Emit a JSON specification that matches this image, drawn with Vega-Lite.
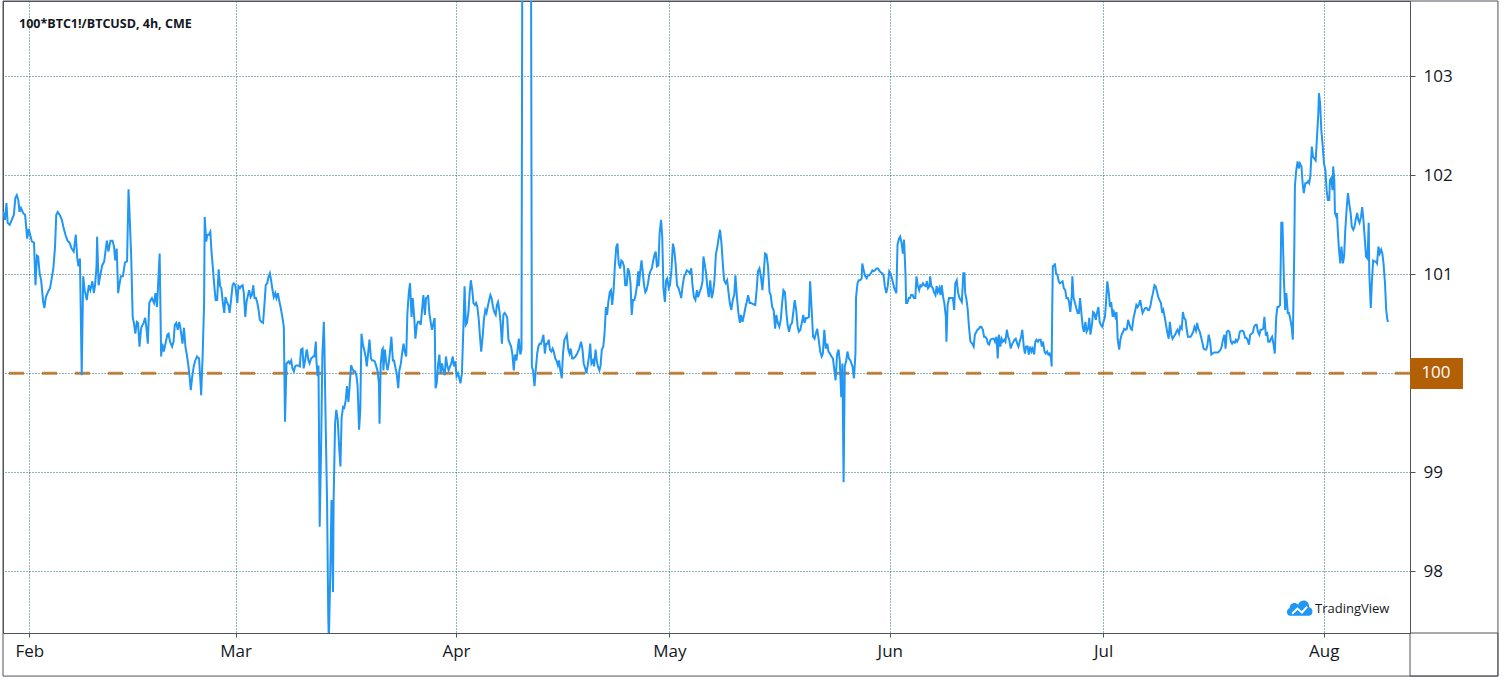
{
"$schema": "https://vega.github.io/schema/vega-lite/v6.json",
"width": 1407, "height": 632,
"autosize": {"type": "none"},
"padding": {"left": 3, "top": 1, "right": 95, "bottom": 52},
"background": "white",
"config": {"view": {"stroke": "#50535e", "strokeWidth": 1}, "font": "Open Sans"},
"datasets": {"ratio": [
{"t":"2020-01-27T15:00Z","v":101.43},{"t":"2020-01-27T17:00Z","v":101.66},{"t":"2020-01-28T00:00Z","v":101.65},{"t":"2020-01-28T09:00Z","v":101.62},{"t":"2020-01-28T14:00Z","v":101.55},{"t":"2020-01-28T19:00Z","v":101.72},{"t":"2020-01-28T23:00Z","v":101.52},{"t":"2020-01-29T06:00Z","v":101.50},{"t":"2020-01-29T13:00Z","v":101.55},{"t":"2020-01-29T20:00Z","v":101.60},{"t":"2020-01-30T01:00Z","v":101.77},{"t":"2020-01-30T06:00Z","v":101.80},{"t":"2020-01-30T11:00Z","v":101.75},{"t":"2020-01-30T15:00Z","v":101.63},{"t":"2020-01-30T20:00Z","v":101.67},{"t":"2020-01-31T03:00Z","v":101.62},{"t":"2020-01-31T10:00Z","v":101.60},{"t":"2020-01-31T17:00Z","v":101.36},{"t":"2020-01-31T22:00Z","v":101.46},
{"t":"2020-02-01T02:00Z","v":101.41},{"t":"2020-02-01T09:00Z","v":101.33},{"t":"2020-02-01T16:00Z","v":101.32},{"t":"2020-02-01T21:00Z","v":100.89},{"t":"2020-02-02T02:00Z","v":101.19},{"t":"2020-02-02T06:00Z","v":101.18},{"t":"2020-02-02T11:00Z","v":101.01},{"t":"2020-02-02T16:00Z","v":100.94},{"t":"2020-02-02T23:00Z","v":100.72},{"t":"2020-02-03T03:00Z","v":100.66},{"t":"2020-02-03T08:00Z","v":100.77},{"t":"2020-02-03T15:00Z","v":100.82},{"t":"2020-02-03T22:00Z","v":100.86},{"t":"2020-02-04T05:00Z","v":100.98},{"t":"2020-02-04T10:00Z","v":101.08},{"t":"2020-02-04T15:00Z","v":101.28},{"t":"2020-02-04T19:00Z","v":101.60},{"t":"2020-02-05T00:00Z","v":101.63},{"t":"2020-02-05T07:00Z","v":101.60},{"t":"2020-02-05T14:00Z","v":101.55},{"t":"2020-02-05T19:00Z","v":101.48},{"t":"2020-02-06T02:00Z","v":101.40},{"t":"2020-02-06T09:00Z","v":101.34},{"t":"2020-02-06T16:00Z","v":101.32},{"t":"2020-02-06T23:00Z","v":101.26},{"t":"2020-02-07T06:00Z","v":101.23},{"t":"2020-02-07T13:00Z","v":101.40},{"t":"2020-02-07T18:00Z","v":101.16},{"t":"2020-02-07T22:00Z","v":101.08},{"t":"2020-02-08T03:00Z","v":101.16},{"t":"2020-02-08T09:00Z","v":99.98},{"t":"2020-02-08T14:00Z","v":100.98},{"t":"2020-02-08T19:00Z","v":100.84},{"t":"2020-02-09T02:00Z","v":100.74},{"t":"2020-02-09T09:00Z","v":100.89},{"t":"2020-02-09T14:00Z","v":100.84},{"t":"2020-02-09T21:00Z","v":100.93},{"t":"2020-02-10T02:00Z","v":100.81},{"t":"2020-02-10T06:00Z","v":100.89},{"t":"2020-02-10T11:00Z","v":101.08},{"t":"2020-02-10T13:00Z","v":101.38},{"t":"2020-02-10T18:00Z","v":100.89},{"t":"2020-02-10T23:00Z","v":100.98},{"t":"2020-02-11T06:00Z","v":101.09},{"t":"2020-02-11T13:00Z","v":101.13},{"t":"2020-02-11T17:00Z","v":101.23},{"t":"2020-02-11T22:00Z","v":101.34},{"t":"2020-02-12T03:00Z","v":101.23},{"t":"2020-02-12T10:00Z","v":101.34},{"t":"2020-02-12T17:00Z","v":101.34},{"t":"2020-02-12T22:00Z","v":101.28},{"t":"2020-02-13T02:00Z","v":101.14},{"t":"2020-02-13T07:00Z","v":101.26},{"t":"2020-02-13T12:00Z","v":100.81},{"t":"2020-02-13T16:00Z","v":100.89},{"t":"2020-02-13T21:00Z","v":100.98},{"t":"2020-02-14T04:00Z","v":100.98},{"t":"2020-02-14T11:00Z","v":101.12},{"t":"2020-02-14T18:00Z","v":101.13},{"t":"2020-02-14T23:00Z","v":101.86},{"t":"2020-02-15T03:00Z","v":101.57},{"t":"2020-02-15T08:00Z","v":101.18},{"t":"2020-02-15T13:00Z","v":100.57},{"t":"2020-02-15T17:00Z","v":100.51},{"t":"2020-02-15T22:00Z","v":100.40},{"t":"2020-02-16T03:00Z","v":100.52},{"t":"2020-02-16T07:00Z","v":100.51},{"t":"2020-02-16T12:00Z","v":100.27},{"t":"2020-02-16T17:00Z","v":100.44},
{"t":"2020-02-16T19:00Z","v":100.47},{"t":"2020-02-17T02:00Z","v":100.51},{"t":"2020-02-17T07:00Z","v":100.56},{"t":"2020-02-17T11:00Z","v":100.47},{"t":"2020-02-17T16:00Z","v":100.30},{"t":"2020-02-17T21:00Z","v":100.71},{"t":"2020-02-18T02:00Z","v":100.74},{"t":"2020-02-18T06:00Z","v":100.76},{"t":"2020-02-18T13:00Z","v":100.71},{"t":"2020-02-18T18:00Z","v":100.81},{"t":"2020-02-18T23:00Z","v":100.67},{"t":"2020-02-19T03:00Z","v":100.91},{"t":"2020-02-19T08:00Z","v":101.21},{"t":"2020-02-19T13:00Z","v":100.17},{"t":"2020-02-19T17:00Z","v":100.30},{"t":"2020-02-19T22:00Z","v":100.22},{"t":"2020-02-20T03:00Z","v":100.29},{"t":"2020-02-20T10:00Z","v":100.39},{"t":"2020-02-20T14:00Z","v":100.40},{"t":"2020-02-20T19:00Z","v":100.32},{"t":"2020-02-21T02:00Z","v":100.27},{"t":"2020-02-21T07:00Z","v":100.32},{"t":"2020-02-21T11:00Z","v":100.49},{"t":"2020-02-21T16:00Z","v":100.51},{"t":"2020-02-21T21:00Z","v":100.44},{"t":"2020-02-22T02:00Z","v":100.52},{"t":"2020-02-22T06:00Z","v":100.46},{"t":"2020-02-22T13:00Z","v":100.30},{"t":"2020-02-22T18:00Z","v":100.46},{"t":"2020-02-22T23:00Z","v":100.27},{"t":"2020-02-23T03:00Z","v":100.20},{"t":"2020-02-23T08:00Z","v":100.10},{"t":"2020-02-23T13:00Z","v":99.97},{"t":"2020-02-23T17:00Z","v":99.83},{"t":"2020-02-23T22:00Z","v":99.97},{"t":"2020-02-24T03:00Z","v":100.07},{"t":"2020-02-24T07:00Z","v":100.12},{"t":"2020-02-24T14:00Z","v":100.17},{"t":"2020-02-24T21:00Z","v":100.15},{"t":"2020-02-25T02:00Z","v":99.90},{"t":"2020-02-25T04:00Z","v":99.78},{"t":"2020-02-25T09:00Z","v":100.17},{"t":"2020-02-25T14:00Z","v":100.71},{"t":"2020-02-25T16:00Z","v":101.58},{"t":"2020-02-25T21:00Z","v":101.33},{"t":"2020-02-26T01:00Z","v":101.40},{"t":"2020-02-26T06:00Z","v":101.40},{"t":"2020-02-26T11:00Z","v":101.43},{"t":"2020-02-26T15:00Z","v":101.23},{"t":"2020-02-26T20:00Z","v":101.05},{"t":"2020-02-27T01:00Z","v":100.86},{"t":"2020-02-27T05:00Z","v":100.74},{"t":"2020-02-27T10:00Z","v":100.74},{"t":"2020-02-27T15:00Z","v":101.05},{"t":"2020-02-27T20:00Z","v":100.88},{"t":"2020-02-28T00:00Z","v":100.86},{"t":"2020-02-28T05:00Z","v":100.72},{"t":"2020-02-28T10:00Z","v":100.61},{"t":"2020-02-28T14:00Z","v":100.77},{"t":"2020-02-28T19:00Z","v":100.72},{"t":"2020-02-29T00:00Z","v":100.69},{"t":"2020-02-29T04:00Z","v":100.61},{"t":"2020-02-29T09:00Z","v":100.74},{"t":"2020-02-29T14:00Z","v":100.89},{"t":"2020-02-29T18:00Z","v":100.91},{"t":"2020-02-29T23:00Z","v":100.89},
{"t":"2020-03-01T04:00Z","v":100.77},{"t":"2020-03-01T06:00Z","v":100.71},{"t":"2020-03-01T10:00Z","v":100.88},{"t":"2020-03-01T15:00Z","v":100.86},{"t":"2020-03-01T19:00Z","v":100.88},{"t":"2020-03-02T00:00Z","v":100.89},{"t":"2020-03-02T04:00Z","v":100.81},{"t":"2020-03-02T09:00Z","v":100.57},{"t":"2020-03-02T13:00Z","v":100.72},{"t":"2020-03-02T18:00Z","v":100.79},{"t":"2020-03-02T22:00Z","v":100.84},{"t":"2020-03-03T03:00Z","v":100.77},{"t":"2020-03-03T07:00Z","v":100.79},{"t":"2020-03-03T12:00Z","v":100.89},{"t":"2020-03-03T16:00Z","v":100.76},{"t":"2020-03-03T21:00Z","v":100.76},{"t":"2020-03-04T01:00Z","v":100.72},{"t":"2020-03-04T06:00Z","v":100.64},{"t":"2020-03-04T10:00Z","v":100.54},{"t":"2020-03-04T15:00Z","v":100.52},{"t":"2020-03-04T21:00Z","v":100.51},{"t":"2020-03-05T02:00Z","v":100.71},{"t":"2020-03-05T06:00Z","v":100.89},{"t":"2020-03-05T11:00Z","v":100.91},{"t":"2020-03-05T15:00Z","v":100.97},{"t":"2020-03-05T20:00Z","v":101.01},{"t":"2020-03-06T00:00Z","v":100.94},{"t":"2020-03-06T05:00Z","v":100.84},{"t":"2020-03-06T09:00Z","v":100.77},{"t":"2020-03-06T14:00Z","v":100.81},{"t":"2020-03-06T18:00Z","v":100.76},{"t":"2020-03-06T23:00Z","v":100.81},{"t":"2020-03-07T03:00Z","v":100.74},{"t":"2020-03-07T08:00Z","v":100.67},{"t":"2020-03-07T14:00Z","v":100.57},{"t":"2020-03-07T19:00Z","v":100.47},
{"t":"2020-03-07T23:00Z","v":99.51},{"t":"2020-03-08T04:00Z","v":100.10},{"t":"2020-03-08T11:00Z","v":100.12},{"t":"2020-03-08T15:00Z","v":100.10},{"t":"2020-03-08T20:00Z","v":100.13},{"t":"2020-03-09T00:00Z","v":100.05},{"t":"2020-03-09T05:00Z","v":100.02},{"t":"2020-03-09T09:00Z","v":100.07},{"t":"2020-03-09T14:00Z","v":100.08},{"t":"2020-03-09T20:00Z","v":100.08},{"t":"2020-03-10T01:00Z","v":100.07},{"t":"2020-03-10T05:00Z","v":100.24},{"t":"2020-03-10T10:00Z","v":100.25},{"t":"2020-03-10T14:00Z","v":100.05},{"t":"2020-03-10T19:00Z","v":100.13},{"t":"2020-03-10T23:00Z","v":100.22},{"t":"2020-03-11T01:00Z","v":100.24},{"t":"2020-03-11T06:00Z","v":100.13},{"t":"2020-03-11T10:00Z","v":100.10},{"t":"2020-03-11T15:00Z","v":100.15},{"t":"2020-03-11T22:00Z","v":100.17},{"t":"2020-03-12T02:00Z","v":100.17},{"t":"2020-03-12T07:00Z","v":100.32},{"t":"2020-03-12T09:00Z","v":100.13},{"t":"2020-03-12T13:00Z","v":99.97},{"t":"2020-03-12T16:00Z","v":100.08},{"t":"2020-03-12T20:00Z","v":98.45},{"t":"2020-03-13T01:00Z","v":99.29},{"t":"2020-03-13T05:00Z","v":100.17},{"t":"2020-03-13T10:00Z","v":100.52},{"t":"2020-03-13T12:00Z","v":100.27},{"t":"2020-03-13T16:00Z","v":99.53},{"t":"2020-03-13T21:00Z","v":98.69},{"t":"2020-03-14T01:00Z","v":97.54},{"t":"2020-03-14T03:00Z","v":97.30},{"t":"2020-03-14T08:00Z","v":98.01},{"t":"2020-03-14T12:00Z","v":98.72},{"t":"2020-03-14T17:00Z","v":97.79},{"t":"2020-03-14T19:00Z","v":98.72},{"t":"2020-03-15T00:00Z","v":99.49},{"t":"2020-03-15T04:00Z","v":99.63},{"t":"2020-03-15T09:00Z","v":99.53},{"t":"2020-03-15T13:00Z","v":99.29},{"t":"2020-03-15T18:00Z","v":99.06},{"t":"2020-03-15T22:00Z","v":99.55},{"t":"2020-03-16T03:00Z","v":99.66},{"t":"2020-03-16T07:00Z","v":99.65},{"t":"2020-03-16T12:00Z","v":99.73},{"t":"2020-03-16T16:00Z","v":99.87},{"t":"2020-03-16T21:00Z","v":99.71},{"t":"2020-03-17T01:00Z","v":99.87},{"t":"2020-03-17T06:00Z","v":100.08},{"t":"2020-03-17T10:00Z","v":100.05},{"t":"2020-03-17T15:00Z","v":100.02},{"t":"2020-03-17T19:00Z","v":100.02},{"t":"2020-03-18T00:00Z","v":99.98},{"t":"2020-03-18T04:00Z","v":99.87},{"t":"2020-03-18T09:00Z","v":99.43},{"t":"2020-03-18T13:00Z","v":99.63},{"t":"2020-03-18T17:00Z","v":100.40},{"t":"2020-03-18T22:00Z","v":100.29},{"t":"2020-03-19T02:00Z","v":100.24},{"t":"2020-03-19T07:00Z","v":100.17},{"t":"2020-03-19T11:00Z","v":100.07},{"t":"2020-03-19T16:00Z","v":100.22},{"t":"2020-03-19T20:00Z","v":100.34},{"t":"2020-03-20T01:00Z","v":100.15},{"t":"2020-03-20T05:00Z","v":100.13},{"t":"2020-03-20T10:00Z","v":100.13},{"t":"2020-03-20T14:00Z","v":100.12},{"t":"2020-03-20T19:00Z","v":100.07},{"t":"2020-03-20T23:00Z","v":100.03},{"t":"2020-03-21T04:00Z","v":99.90},{"t":"2020-03-21T06:00Z","v":99.49},{"t":"2020-03-21T10:00Z","v":100.10},{"t":"2020-03-21T15:00Z","v":100.24},{"t":"2020-03-21T17:00Z","v":100.25},{"t":"2020-03-21T19:00Z","v":100.03},{"t":"2020-03-22T00:00Z","v":100.24},{"t":"2020-03-22T04:00Z","v":100.12},{"t":"2020-03-22T09:00Z","v":100.03},{"t":"2020-03-22T13:00Z","v":100.10},{"t":"2020-03-22T18:00Z","v":100.24},{"t":"2020-03-22T22:00Z","v":100.37},{"t":"2020-03-23T03:00Z","v":100.13},{"t":"2020-03-23T07:00Z","v":100.13},{"t":"2020-03-23T12:00Z","v":100.05},{"t":"2020-03-23T16:00Z","v":100.00},{"t":"2020-03-23T21:00Z","v":99.85},{"t":"2020-03-24T01:00Z","v":100.03},{"t":"2020-03-24T06:00Z","v":100.10},{"t":"2020-03-24T10:00Z","v":100.20},{"t":"2020-03-24T15:00Z","v":100.30},{"t":"2020-03-24T19:00Z","v":100.22},{"t":"2020-03-25T00:00Z","v":100.17},{"t":"2020-03-25T04:00Z","v":100.61},{"t":"2020-03-25T09:00Z","v":100.82},{"t":"2020-03-25T13:00Z","v":100.91},{"t":"2020-03-25T18:00Z","v":100.57},{"t":"2020-03-25T22:00Z","v":100.76},{"t":"2020-03-26T03:00Z","v":100.57},{"t":"2020-03-26T07:00Z","v":100.35},{"t":"2020-03-26T12:00Z","v":100.49},{"t":"2020-03-26T16:00Z","v":100.52},{"t":"2020-03-26T21:00Z","v":100.52},{"t":"2020-03-27T01:00Z","v":100.49},{"t":"2020-03-27T06:00Z","v":100.66},{"t":"2020-03-27T10:00Z","v":100.79},{"t":"2020-03-27T15:00Z","v":100.59},{"t":"2020-03-27T19:00Z","v":100.76},{"t":"2020-03-28T00:00Z","v":100.77},
{"t":"2020-03-28T02:00Z","v":100.79},{"t":"2020-03-28T06:00Z","v":100.61},{"t":"2020-03-28T11:00Z","v":100.51},{"t":"2020-03-28T15:00Z","v":100.44},{"t":"2020-03-28T20:00Z","v":100.51},{"t":"2020-03-29T00:00Z","v":100.56},{"t":"2020-03-29T03:00Z","v":99.85},{"t":"2020-03-29T07:00Z","v":99.90},{"t":"2020-03-29T12:00Z","v":100.10},{"t":"2020-03-29T16:00Z","v":100.19},{"t":"2020-03-29T20:00Z","v":100.00},{"t":"2020-03-30T01:00Z","v":100.10},{"t":"2020-03-30T05:00Z","v":100.03},{"t":"2020-03-30T10:00Z","v":99.98},{"t":"2020-03-30T14:00Z","v":100.17},{"t":"2020-03-30T19:00Z","v":100.07},{"t":"2020-03-30T23:00Z","v":100.03},{"t":"2020-03-31T04:00Z","v":100.07},{"t":"2020-03-31T08:00Z","v":100.10},{"t":"2020-03-31T13:00Z","v":100.17},{"t":"2020-03-31T17:00Z","v":100.07},{"t":"2020-03-31T22:00Z","v":100.12},
{"t":"2020-04-01T02:00Z","v":99.97},{"t":"2020-04-01T07:00Z","v":100.00},{"t":"2020-04-01T11:00Z","v":99.95},{"t":"2020-04-01T15:00Z","v":99.90},{"t":"2020-04-01T20:00Z","v":100.00},{"t":"2020-04-02T00:00Z","v":100.37},{"t":"2020-04-02T05:00Z","v":100.88},{"t":"2020-04-02T09:00Z","v":100.49},{"t":"2020-04-02T13:00Z","v":100.51},{"t":"2020-04-02T18:00Z","v":100.62},{"t":"2020-04-02T22:00Z","v":100.81},{"t":"2020-04-03T02:00Z","v":100.94},{"t":"2020-04-03T07:00Z","v":100.84},{"t":"2020-04-03T11:00Z","v":100.71},{"t":"2020-04-03T16:00Z","v":100.69},{"t":"2020-04-03T20:00Z","v":100.71},{"t":"2020-04-04T00:00Z","v":100.67},{"t":"2020-04-04T05:00Z","v":100.54},{"t":"2020-04-04T09:00Z","v":100.37},{"t":"2020-04-04T13:00Z","v":100.22},{"t":"2020-04-04T18:00Z","v":100.37},{"t":"2020-04-04T22:00Z","v":100.54},{"t":"2020-04-05T03:00Z","v":100.64},{"t":"2020-04-05T07:00Z","v":100.61},{"t":"2020-04-05T11:00Z","v":100.67},{"t":"2020-04-05T16:00Z","v":100.74},{"t":"2020-04-05T20:00Z","v":100.79},{"t":"2020-04-06T00:00Z","v":100.76},{"t":"2020-04-06T05:00Z","v":100.67},{"t":"2020-04-06T09:00Z","v":100.62},{"t":"2020-04-06T14:00Z","v":100.59},{"t":"2020-04-06T18:00Z","v":100.69},{"t":"2020-04-06T22:00Z","v":100.72},{"t":"2020-04-07T03:00Z","v":100.62},{"t":"2020-04-07T07:00Z","v":100.49},{"t":"2020-04-07T11:00Z","v":100.30},{"t":"2020-04-07T16:00Z","v":100.59},{"t":"2020-04-07T20:00Z","v":100.61},{"t":"2020-04-08T01:00Z","v":100.59},{"t":"2020-04-08T05:00Z","v":100.56},{"t":"2020-04-08T09:00Z","v":100.34},{"t":"2020-04-08T14:00Z","v":100.30},{"t":"2020-04-08T18:00Z","v":100.27},{"t":"2020-04-08T22:00Z","v":100.20},{"t":"2020-04-09T03:00Z","v":100.03},{"t":"2020-04-09T07:00Z","v":100.19},{"t":"2020-04-09T12:00Z","v":100.13},{"t":"2020-04-09T16:00Z","v":100.24},{"t":"2020-04-09T20:00Z","v":100.35},{"t":"2020-04-10T01:00Z","v":100.19},{"t":"2020-04-10T05:00Z","v":100.24},{"t":"2020-04-10T09:00Z","v":106.0},{"t":"2020-04-10T23:00Z","v":106.5},{"t":"2020-04-11T12:00Z","v":106.0},{"t":"2020-04-11T16:00Z","v":100.07},{"t":"2020-04-11T20:00Z","v":100.03},{"t":"2020-04-12T01:00Z","v":99.87},{"t":"2020-04-12T05:00Z","v":100.03},{"t":"2020-04-12T10:00Z","v":100.20},{"t":"2020-04-12T14:00Z","v":100.27},{"t":"2020-04-12T18:00Z","v":100.30},{"t":"2020-04-12T23:00Z","v":100.30},{"t":"2020-04-13T03:00Z","v":100.34},{"t":"2020-04-13T07:00Z","v":100.39},{"t":"2020-04-13T12:00Z","v":100.20},{"t":"2020-04-13T16:00Z","v":100.30},{"t":"2020-04-13T21:00Z","v":100.30},{"t":"2020-04-14T01:00Z","v":100.34},{"t":"2020-04-14T05:00Z","v":100.24},{"t":"2020-04-14T10:00Z","v":100.22},{"t":"2020-04-14T14:00Z","v":100.25},{"t":"2020-04-14T18:00Z","v":100.22},{"t":"2020-04-14T23:00Z","v":100.15},{"t":"2020-04-15T03:00Z","v":100.13},{"t":"2020-04-15T08:00Z","v":100.08},{"t":"2020-04-15T12:00Z","v":100.13},{"t":"2020-04-15T16:00Z","v":100.03},{"t":"2020-04-15T21:00Z","v":99.95},{"t":"2020-04-16T01:00Z","v":100.20},{"t":"2020-04-16T06:00Z","v":100.34},
{"t":"2020-04-16T08:00Z","v":100.35},{"t":"2020-04-16T14:00Z","v":100.39},{"t":"2020-04-16T19:00Z","v":100.24},{"t":"2020-04-16T23:00Z","v":100.20},{"t":"2020-04-17T03:00Z","v":100.25},{"t":"2020-04-17T08:00Z","v":100.15},{"t":"2020-04-17T12:00Z","v":100.15},{"t":"2020-04-17T19:00Z","v":100.17},{"t":"2020-04-18T01:00Z","v":100.20},{"t":"2020-04-18T08:00Z","v":100.25},{"t":"2020-04-18T14:00Z","v":100.32},{"t":"2020-04-18T19:00Z","v":100.24},{"t":"2020-04-18T23:00Z","v":100.10},{"t":"2020-04-19T04:00Z","v":100.05},{"t":"2020-04-19T08:00Z","v":100.00},{"t":"2020-04-19T12:00Z","v":100.07},{"t":"2020-04-19T17:00Z","v":100.17},{"t":"2020-04-19T21:00Z","v":100.30},{"t":"2020-04-20T01:00Z","v":100.10},{"t":"2020-04-20T06:00Z","v":100.13},{"t":"2020-04-20T10:00Z","v":100.07},{"t":"2020-04-20T15:00Z","v":100.24},{"t":"2020-04-20T19:00Z","v":100.13},{"t":"2020-04-20T23:00Z","v":100.07},{"t":"2020-04-21T04:00Z","v":100.03},{"t":"2020-04-21T08:00Z","v":100.08},{"t":"2020-04-21T12:00Z","v":100.24},{"t":"2020-04-21T17:00Z","v":100.27},{"t":"2020-04-21T21:00Z","v":100.39},{"t":"2020-04-22T02:00Z","v":100.67},{"t":"2020-04-22T06:00Z","v":100.59},{"t":"2020-04-22T10:00Z","v":100.72},{"t":"2020-04-22T15:00Z","v":100.82},{"t":"2020-04-22T19:00Z","v":100.84},{"t":"2020-04-22T23:00Z","v":100.69},{"t":"2020-04-23T04:00Z","v":100.84},{"t":"2020-04-23T08:00Z","v":101.08},{"t":"2020-04-23T13:00Z","v":101.28},{"t":"2020-04-23T17:00Z","v":101.31},{"t":"2020-04-23T21:00Z","v":101.11},{"t":"2020-04-24T02:00Z","v":101.06},{"t":"2020-04-24T06:00Z","v":101.14},{"t":"2020-04-24T10:00Z","v":101.13},{"t":"2020-04-24T15:00Z","v":101.08},{"t":"2020-04-24T19:00Z","v":100.89},{"t":"2020-04-25T00:00Z","v":100.89},{"t":"2020-04-25T04:00Z","v":101.06},{"t":"2020-04-25T08:00Z","v":101.03},{"t":"2020-04-25T13:00Z","v":100.91},{"t":"2020-04-25T17:00Z","v":100.59},{"t":"2020-04-25T21:00Z","v":100.74},{"t":"2020-04-26T02:00Z","v":100.74},{"t":"2020-04-26T06:00Z","v":100.79},{"t":"2020-04-26T11:00Z","v":100.89},{"t":"2020-04-26T15:00Z","v":101.03},{"t":"2020-04-26T17:00Z","v":100.88},{"t":"2020-04-26T21:00Z","v":101.01},{"t":"2020-04-27T02:00Z","v":101.14},{"t":"2020-04-27T06:00Z","v":101.03},{"t":"2020-04-27T11:00Z","v":100.88},{"t":"2020-04-27T15:00Z","v":100.82},{"t":"2020-04-27T19:00Z","v":100.84},{"t":"2020-04-28T00:00Z","v":100.91},{"t":"2020-04-28T04:00Z","v":100.99},{"t":"2020-04-28T08:00Z","v":101.03},{"t":"2020-04-28T13:00Z","v":101.06},{"t":"2020-04-28T17:00Z","v":101.13},{"t":"2020-04-28T22:00Z","v":101.20},{"t":"2020-04-29T02:00Z","v":101.23},{"t":"2020-04-29T06:00Z","v":101.08},{"t":"2020-04-29T11:00Z","v":101.09},{"t":"2020-04-29T15:00Z","v":101.41},{"t":"2020-04-29T20:00Z","v":101.55},{"t":"2020-04-30T00:00Z","v":101.38},{"t":"2020-04-30T04:00Z","v":100.86},{"t":"2020-04-30T09:00Z","v":100.72},{"t":"2020-04-30T13:00Z","v":100.94},{"t":"2020-04-30T17:00Z","v":100.96},{"t":"2020-04-30T22:00Z","v":100.86},
{"t":"2020-05-01T02:00Z","v":100.89},{"t":"2020-05-01T07:00Z","v":101.04},{"t":"2020-05-01T12:00Z","v":101.31},{"t":"2020-05-01T16:00Z","v":101.26},{"t":"2020-05-01T21:00Z","v":101.11},{"t":"2020-05-02T02:00Z","v":100.89},{"t":"2020-05-02T07:00Z","v":100.86},{"t":"2020-05-02T12:00Z","v":100.81},{"t":"2020-05-02T16:00Z","v":100.76},{"t":"2020-05-02T21:00Z","v":100.89},{"t":"2020-05-03T02:00Z","v":100.98},{"t":"2020-05-03T07:00Z","v":101.01},{"t":"2020-05-03T11:00Z","v":101.04},{"t":"2020-05-03T16:00Z","v":101.03},{"t":"2020-05-03T21:00Z","v":101.01},{"t":"2020-05-04T02:00Z","v":101.06},{"t":"2020-05-04T06:00Z","v":100.89},{"t":"2020-05-04T11:00Z","v":100.77},{"t":"2020-05-04T16:00Z","v":100.74},{"t":"2020-05-04T21:00Z","v":100.84},{"t":"2020-05-05T01:00Z","v":100.77},{"t":"2020-05-05T06:00Z","v":100.82},{"t":"2020-05-05T11:00Z","v":100.86},{"t":"2020-05-05T16:00Z","v":100.93},{"t":"2020-05-05T19:00Z","v":101.18},
{"t":"2020-05-05T23:00Z","v":101.11},{"t":"2020-05-06T04:00Z","v":101.01},{"t":"2020-05-06T08:00Z","v":100.88},{"t":"2020-05-06T13:00Z","v":100.77},{"t":"2020-05-06T18:00Z","v":100.94},{"t":"2020-05-06T23:00Z","v":100.76},{"t":"2020-05-07T03:00Z","v":100.81},{"t":"2020-05-07T08:00Z","v":100.93},{"t":"2020-05-07T13:00Z","v":101.20},{"t":"2020-05-07T18:00Z","v":101.28},{"t":"2020-05-07T22:00Z","v":101.36},{"t":"2020-05-08T03:00Z","v":101.45},{"t":"2020-05-08T08:00Z","v":101.31},{"t":"2020-05-08T13:00Z","v":101.08},{"t":"2020-05-08T17:00Z","v":100.94},{"t":"2020-05-08T22:00Z","v":100.91},{"t":"2020-05-09T03:00Z","v":100.94},{"t":"2020-05-09T08:00Z","v":100.81},{"t":"2020-05-09T12:00Z","v":100.71},{"t":"2020-05-09T17:00Z","v":100.64},{"t":"2020-05-09T22:00Z","v":100.74},{"t":"2020-05-10T03:00Z","v":100.79},{"t":"2020-05-10T07:00Z","v":100.99},{"t":"2020-05-10T12:00Z","v":100.77},{"t":"2020-05-10T17:00Z","v":100.61},{"t":"2020-05-10T22:00Z","v":100.51},{"t":"2020-05-11T02:00Z","v":100.59},{"t":"2020-05-11T07:00Z","v":100.52},{"t":"2020-05-11T12:00Z","v":100.59},{"t":"2020-05-11T17:00Z","v":100.67},{"t":"2020-05-11T21:00Z","v":100.72},{"t":"2020-05-12T02:00Z","v":100.79},{"t":"2020-05-12T07:00Z","v":100.71},{"t":"2020-05-12T12:00Z","v":100.71},{"t":"2020-05-12T19:00Z","v":100.70},{"t":"2020-05-13T02:00Z","v":100.69},{"t":"2020-05-13T07:00Z","v":100.86},{"t":"2020-05-13T11:00Z","v":101.03},{"t":"2020-05-13T16:00Z","v":101.06},{"t":"2020-05-13T21:00Z","v":100.98},{"t":"2020-05-14T02:00Z","v":100.84},{"t":"2020-05-14T07:00Z","v":101.03},{"t":"2020-05-14T11:00Z","v":101.21},{"t":"2020-05-14T16:00Z","v":101.20},{"t":"2020-05-14T21:00Z","v":101.08},{"t":"2020-05-15T02:00Z","v":100.82},{"t":"2020-05-15T06:00Z","v":100.79},{"t":"2020-05-15T11:00Z","v":100.67},{"t":"2020-05-15T16:00Z","v":100.64},{"t":"2020-05-15T21:00Z","v":100.45},{"t":"2020-05-16T01:00Z","v":100.59},{"t":"2020-05-16T06:00Z","v":100.51},{"t":"2020-05-16T11:00Z","v":100.47},{"t":"2020-05-16T16:00Z","v":100.54},{"t":"2020-05-16T20:00Z","v":100.69},{"t":"2020-05-17T01:00Z","v":100.84},{"t":"2020-05-17T06:00Z","v":100.82},{"t":"2020-05-17T11:00Z","v":100.61},{"t":"2020-05-17T15:00Z","v":100.49},{"t":"2020-05-17T20:00Z","v":100.42},{"t":"2020-05-18T01:00Z","v":100.49},{"t":"2020-05-18T06:00Z","v":100.51},{"t":"2020-05-18T10:00Z","v":100.61},{"t":"2020-05-18T15:00Z","v":100.74},{"t":"2020-05-18T20:00Z","v":100.64},{"t":"2020-05-19T01:00Z","v":100.47},{"t":"2020-05-19T05:00Z","v":100.42},{"t":"2020-05-19T10:00Z","v":100.44},{"t":"2020-05-19T15:00Z","v":100.51},{"t":"2020-05-19T20:00Z","v":100.59},{"t":"2020-05-20T00:00Z","v":100.51},{"t":"2020-05-20T05:00Z","v":100.56},{"t":"2020-05-20T10:00Z","v":100.56},{"t":"2020-05-20T15:00Z","v":100.57},{"t":"2020-05-20T19:00Z","v":100.93},{"t":"2020-05-21T00:00Z","v":100.66},{"t":"2020-05-21T05:00Z","v":100.37},{"t":"2020-05-21T10:00Z","v":100.35},{"t":"2020-05-21T14:00Z","v":100.40},{"t":"2020-05-21T19:00Z","v":100.45},{"t":"2020-05-22T00:00Z","v":100.34},{"t":"2020-05-22T05:00Z","v":100.22},{"t":"2020-05-22T10:00Z","v":100.17},{"t":"2020-05-22T14:00Z","v":100.20},{"t":"2020-05-22T19:00Z","v":100.44},{"t":"2020-05-23T00:00Z","v":100.25},{"t":"2020-05-23T05:00Z","v":100.30},{"t":"2020-05-23T09:00Z","v":100.22},{"t":"2020-05-23T14:00Z","v":100.20},{"t":"2020-05-23T19:00Z","v":100.17},{"t":"2020-05-24T00:00Z","v":100.15},{"t":"2020-05-24T04:00Z","v":100.05},{"t":"2020-05-24T09:00Z","v":99.93},{"t":"2020-05-24T14:00Z","v":100.19},{"t":"2020-05-24T19:00Z","v":100.24},{"t":"2020-05-24T23:00Z","v":100.13},{"t":"2020-05-25T04:00Z","v":99.76},{"t":"2020-05-25T08:00Z","v":100.10},{"t":"2020-05-25T12:00Z","v":98.90},{"t":"2020-05-25T16:00Z","v":100.07},{"t":"2020-05-25T21:00Z","v":100.13},{"t":"2020-05-26T01:00Z","v":100.22},{"t":"2020-05-26T06:00Z","v":100.15},{"t":"2020-05-26T11:00Z","v":100.13},
{"t":"2020-05-26T18:00Z","v":100.07},{"t":"2020-05-26T23:00Z","v":99.95},{"t":"2020-05-27T04:00Z","v":100.20},{"t":"2020-05-27T06:00Z","v":100.77},{"t":"2020-05-27T11:00Z","v":100.91},{"t":"2020-05-27T15:00Z","v":100.94},{"t":"2020-05-27T20:00Z","v":100.94},{"t":"2020-05-28T01:00Z","v":100.96},{"t":"2020-05-28T03:00Z","v":101.11},{"t":"2020-05-28T08:00Z","v":101.04},{"t":"2020-05-28T13:00Z","v":100.98},{"t":"2020-05-28T18:00Z","v":100.96},{"t":"2020-05-28T22:00Z","v":100.99},{"t":"2020-05-29T03:00Z","v":100.99},{"t":"2020-05-29T08:00Z","v":101.01},{"t":"2020-05-29T13:00Z","v":101.04},{"t":"2020-05-29T17:00Z","v":101.03},{"t":"2020-05-29T22:00Z","v":101.04},{"t":"2020-05-30T03:00Z","v":101.06},{"t":"2020-05-30T08:00Z","v":101.06},{"t":"2020-05-30T12:00Z","v":101.04},{"t":"2020-05-30T17:00Z","v":101.02},{"t":"2020-05-30T22:00Z","v":101.01},{"t":"2020-05-31T03:00Z","v":100.99},{"t":"2020-05-31T07:00Z","v":100.88},{"t":"2020-05-31T12:00Z","v":100.81},{"t":"2020-05-31T17:00Z","v":100.88},{"t":"2020-05-31T22:00Z","v":101.03},
{"t":"2020-06-01T02:00Z","v":101.01},{"t":"2020-06-01T07:00Z","v":100.96},{"t":"2020-06-01T11:00Z","v":100.91},{"t":"2020-06-01T15:00Z","v":100.86},{"t":"2020-06-01T22:00Z","v":100.81},{"t":"2020-06-02T02:00Z","v":101.30},{"t":"2020-06-02T07:00Z","v":101.36},{"t":"2020-06-02T11:00Z","v":101.38},{"t":"2020-06-02T16:00Z","v":101.31},{"t":"2020-06-02T20:00Z","v":101.21},{"t":"2020-06-03T00:00Z","v":101.35},{"t":"2020-06-03T05:00Z","v":100.99},{"t":"2020-06-03T07:00Z","v":100.71},{"t":"2020-06-03T11:00Z","v":100.71},{"t":"2020-06-03T16:00Z","v":100.76},{"t":"2020-06-03T20:00Z","v":100.76},{"t":"2020-06-04T00:00Z","v":100.79},{"t":"2020-06-04T05:00Z","v":100.79},{"t":"2020-06-04T09:00Z","v":100.76},{"t":"2020-06-04T14:00Z","v":100.76},{"t":"2020-06-04T18:00Z","v":100.98},{"t":"2020-06-04T22:00Z","v":100.89},{"t":"2020-06-05T03:00Z","v":100.84},{"t":"2020-06-05T07:00Z","v":100.89},{"t":"2020-06-05T11:00Z","v":100.88},{"t":"2020-06-05T16:00Z","v":100.91},{"t":"2020-06-05T20:00Z","v":100.89},{"t":"2020-06-06T01:00Z","v":100.88},{"t":"2020-06-06T05:00Z","v":100.93},{"t":"2020-06-06T09:00Z","v":100.86},{"t":"2020-06-06T14:00Z","v":100.88},{"t":"2020-06-06T16:00Z","v":100.98},{"t":"2020-06-06T20:00Z","v":100.88},{"t":"2020-06-07T01:00Z","v":100.86},{"t":"2020-06-07T05:00Z","v":100.82},{"t":"2020-06-07T10:00Z","v":100.79},{"t":"2020-06-07T14:00Z","v":100.88},{"t":"2020-06-07T18:00Z","v":100.82},{"t":"2020-06-07T23:00Z","v":100.86},{"t":"2020-06-08T03:00Z","v":100.79},{"t":"2020-06-08T07:00Z","v":100.89},{"t":"2020-06-08T12:00Z","v":100.77},{"t":"2020-06-08T16:00Z","v":100.71},{"t":"2020-06-08T21:00Z","v":100.57},{"t":"2020-06-08T23:00Z","v":100.32},{"t":"2020-06-09T03:00Z","v":100.69},{"t":"2020-06-09T08:00Z","v":100.76},{"t":"2020-06-09T12:00Z","v":100.76},{"t":"2020-06-09T16:00Z","v":100.76},{"t":"2020-06-09T21:00Z","v":100.76},{"t":"2020-06-10T01:00Z","v":100.64},{"t":"2020-06-10T05:00Z","v":100.91},{"t":"2020-06-10T10:00Z","v":100.94},{"t":"2020-06-10T14:00Z","v":100.82},{"t":"2020-06-10T19:00Z","v":100.76},{"t":"2020-06-10T23:00Z","v":100.74},{"t":"2020-06-11T03:00Z","v":100.72},{"t":"2020-06-11T08:00Z","v":101.01},{"t":"2020-06-11T12:00Z","v":101.01},{"t":"2020-06-11T14:00Z","v":100.82},{"t":"2020-06-11T19:00Z","v":100.74},{"t":"2020-06-11T23:00Z","v":100.64},{"t":"2020-06-12T03:00Z","v":100.47},{"t":"2020-06-12T08:00Z","v":100.32},{"t":"2020-06-12T14:00Z","v":100.30},{"t":"2020-06-12T19:00Z","v":100.27},{"t":"2020-06-12T23:00Z","v":100.39},{"t":"2020-06-13T04:00Z","v":100.42},{"t":"2020-06-13T08:00Z","v":100.44},{"t":"2020-06-13T12:00Z","v":100.45},{"t":"2020-06-13T17:00Z","v":100.47},{"t":"2020-06-13T21:00Z","v":100.47},{"t":"2020-06-14T02:00Z","v":100.44},{"t":"2020-06-14T06:00Z","v":100.37},{"t":"2020-06-14T10:00Z","v":100.37},{"t":"2020-06-14T15:00Z","v":100.35},{"t":"2020-06-14T19:00Z","v":100.30},{"t":"2020-06-14T23:00Z","v":100.29},{"t":"2020-06-15T04:00Z","v":100.34},
{"t":"2020-06-15T10:00Z","v":100.35},{"t":"2020-06-15T15:00Z","v":100.35},{"t":"2020-06-15T19:00Z","v":100.32},{"t":"2020-06-16T00:00Z","v":100.37},{"t":"2020-06-16T04:00Z","v":100.15},{"t":"2020-06-16T08:00Z","v":100.39},{"t":"2020-06-16T13:00Z","v":100.27},{"t":"2020-06-16T17:00Z","v":100.35},{"t":"2020-06-16T21:00Z","v":100.32},{"t":"2020-06-17T02:00Z","v":100.34},{"t":"2020-06-17T06:00Z","v":100.32},{"t":"2020-06-17T11:00Z","v":100.44},{"t":"2020-06-17T15:00Z","v":100.37},{"t":"2020-06-17T19:00Z","v":100.34},{"t":"2020-06-18T00:00Z","v":100.25},{"t":"2020-06-18T04:00Z","v":100.29},{"t":"2020-06-18T09:00Z","v":100.32},{"t":"2020-06-18T13:00Z","v":100.34},{"t":"2020-06-18T17:00Z","v":100.35},{"t":"2020-06-18T22:00Z","v":100.30},{"t":"2020-06-19T02:00Z","v":100.27},{"t":"2020-06-19T06:00Z","v":100.32},{"t":"2020-06-19T11:00Z","v":100.37},{"t":"2020-06-19T15:00Z","v":100.44},{"t":"2020-06-19T20:00Z","v":100.27},{"t":"2020-06-20T00:00Z","v":100.20},{"t":"2020-06-20T04:00Z","v":100.27},{"t":"2020-06-20T09:00Z","v":100.27},{"t":"2020-06-20T13:00Z","v":100.19},{"t":"2020-06-20T18:00Z","v":100.27},{"t":"2020-06-20T22:00Z","v":100.22},{"t":"2020-06-21T02:00Z","v":100.25},{"t":"2020-06-21T07:00Z","v":100.19},{"t":"2020-06-21T11:00Z","v":100.32},{"t":"2020-06-21T15:00Z","v":100.34},{"t":"2020-06-21T20:00Z","v":100.32},{"t":"2020-06-22T00:00Z","v":100.34},{"t":"2020-06-22T05:00Z","v":100.34},{"t":"2020-06-22T09:00Z","v":100.27},{"t":"2020-06-22T13:00Z","v":100.32},{"t":"2020-06-22T18:00Z","v":100.22},{"t":"2020-06-22T22:00Z","v":100.20},{"t":"2020-06-23T03:00Z","v":100.22},{"t":"2020-06-23T07:00Z","v":100.19},{"t":"2020-06-23T11:00Z","v":100.20},{"t":"2020-06-23T16:00Z","v":100.15},{"t":"2020-06-23T18:00Z","v":100.07},{"t":"2020-06-23T20:00Z","v":100.64},{"t":"2020-06-23T22:00Z","v":101.08},{"t":"2020-06-24T03:00Z","v":101.09},{"t":"2020-06-24T05:00Z","v":101.11},{"t":"2020-06-24T09:00Z","v":101.01},{"t":"2020-06-24T14:00Z","v":100.99},{"t":"2020-06-24T18:00Z","v":100.93},{"t":"2020-06-24T22:00Z","v":100.91},{"t":"2020-06-25T03:00Z","v":100.92},{"t":"2020-06-25T07:00Z","v":100.93},{"t":"2020-06-25T11:00Z","v":100.86},{"t":"2020-06-25T16:00Z","v":100.84},{"t":"2020-06-25T20:00Z","v":100.76},{"t":"2020-06-26T01:00Z","v":100.76},{"t":"2020-06-26T05:00Z","v":100.72},{"t":"2020-06-26T09:00Z","v":100.62},{"t":"2020-06-26T14:00Z","v":100.79},{"t":"2020-06-26T16:00Z","v":100.98},{"t":"2020-06-26T20:00Z","v":100.76},{"t":"2020-06-27T01:00Z","v":100.71},{"t":"2020-06-27T05:00Z","v":100.66},{"t":"2020-06-27T10:00Z","v":100.61},{"t":"2020-06-27T14:00Z","v":100.61},{"t":"2020-06-27T18:00Z","v":100.76},{"t":"2020-06-27T23:00Z","v":100.59},{"t":"2020-06-28T03:00Z","v":100.47},{"t":"2020-06-28T07:00Z","v":100.42},{"t":"2020-06-28T12:00Z","v":100.52},{"t":"2020-06-28T16:00Z","v":100.42},{"t":"2020-06-28T21:00Z","v":100.45},{"t":"2020-06-29T01:00Z","v":100.56},{"t":"2020-06-29T05:00Z","v":100.39},{"t":"2020-06-29T10:00Z","v":100.49},{"t":"2020-06-29T14:00Z","v":100.62},{"t":"2020-06-29T18:00Z","v":100.61},{"t":"2020-06-29T23:00Z","v":100.54},{"t":"2020-06-30T03:00Z","v":100.61},{"t":"2020-06-30T08:00Z","v":100.67},{"t":"2020-06-30T12:00Z","v":100.52},{"t":"2020-06-30T16:00Z","v":100.49},{"t":"2020-06-30T21:00Z","v":100.47},
{"t":"2020-07-01T01:00Z","v":100.52},{"t":"2020-07-01T06:00Z","v":100.57},{"t":"2020-07-01T10:00Z","v":100.74},{"t":"2020-07-01T14:00Z","v":100.93},{"t":"2020-07-01T19:00Z","v":100.81},{"t":"2020-07-01T23:00Z","v":100.67},{"t":"2020-07-02T03:00Z","v":100.72},{"t":"2020-07-02T08:00Z","v":100.57},{"t":"2020-07-02T12:00Z","v":100.62},{"t":"2020-07-02T17:00Z","v":100.57},{"t":"2020-07-02T21:00Z","v":100.62},{"t":"2020-07-03T01:00Z","v":100.34},{"t":"2020-07-03T06:00Z","v":100.24},{"t":"2020-07-03T10:00Z","v":100.34},{"t":"2020-07-03T14:00Z","v":100.39},{"t":"2020-07-03T19:00Z","v":100.42},{"t":"2020-07-03T23:00Z","v":100.45},{"t":"2020-07-04T04:00Z","v":100.44},{"t":"2020-07-04T08:00Z","v":100.45},{"t":"2020-07-04T12:00Z","v":100.54},{"t":"2020-07-04T17:00Z","v":100.49},{"t":"2020-07-04T21:00Z","v":100.45},{"t":"2020-07-05T01:00Z","v":100.44},
{"t":"2020-07-05T07:00Z","v":100.57},{"t":"2020-07-05T11:00Z","v":100.62},{"t":"2020-07-05T16:00Z","v":100.69},{"t":"2020-07-05T20:00Z","v":100.67},{"t":"2020-07-06T00:00Z","v":100.69},{"t":"2020-07-06T05:00Z","v":100.74},{"t":"2020-07-06T09:00Z","v":100.67},{"t":"2020-07-06T13:00Z","v":100.61},{"t":"2020-07-06T18:00Z","v":100.64},{"t":"2020-07-06T22:00Z","v":100.66},{"t":"2020-07-07T03:00Z","v":100.66},{"t":"2020-07-07T07:00Z","v":100.64},{"t":"2020-07-07T11:00Z","v":100.64},{"t":"2020-07-07T16:00Z","v":100.69},{"t":"2020-07-07T20:00Z","v":100.76},{"t":"2020-07-08T00:00Z","v":100.81},{"t":"2020-07-08T05:00Z","v":100.89},{"t":"2020-07-08T09:00Z","v":100.88},{"t":"2020-07-08T14:00Z","v":100.82},{"t":"2020-07-08T18:00Z","v":100.77},{"t":"2020-07-08T22:00Z","v":100.74},{"t":"2020-07-09T03:00Z","v":100.71},{"t":"2020-07-09T07:00Z","v":100.61},{"t":"2020-07-09T11:00Z","v":100.64},{"t":"2020-07-09T16:00Z","v":100.56},{"t":"2020-07-09T20:00Z","v":100.49},{"t":"2020-07-10T00:00Z","v":100.42},{"t":"2020-07-10T05:00Z","v":100.35},{"t":"2020-07-10T09:00Z","v":100.52},{"t":"2020-07-10T14:00Z","v":100.39},{"t":"2020-07-10T18:00Z","v":100.35},{"t":"2020-07-10T22:00Z","v":100.37},{"t":"2020-07-11T03:00Z","v":100.39},{"t":"2020-07-11T07:00Z","v":100.42},{"t":"2020-07-11T11:00Z","v":100.44},{"t":"2020-07-11T16:00Z","v":100.40},{"t":"2020-07-11T20:00Z","v":100.47},{"t":"2020-07-12T01:00Z","v":100.45},{"t":"2020-07-12T05:00Z","v":100.62},{"t":"2020-07-12T09:00Z","v":100.56},{"t":"2020-07-12T14:00Z","v":100.54},{"t":"2020-07-12T18:00Z","v":100.44},{"t":"2020-07-12T22:00Z","v":100.37},{"t":"2020-07-13T03:00Z","v":100.37},{"t":"2020-07-13T07:00Z","v":100.37},{"t":"2020-07-13T11:00Z","v":100.39},{"t":"2020-07-13T16:00Z","v":100.42},{"t":"2020-07-13T20:00Z","v":100.47},{"t":"2020-07-14T01:00Z","v":100.43},{"t":"2020-07-14T05:00Z","v":100.51},{"t":"2020-07-14T09:00Z","v":100.45},{"t":"2020-07-14T14:00Z","v":100.42},{"t":"2020-07-14T18:00Z","v":100.37},{"t":"2020-07-14T22:00Z","v":100.32},{"t":"2020-07-15T03:00Z","v":100.25},{"t":"2020-07-15T07:00Z","v":100.24},{"t":"2020-07-15T12:00Z","v":100.24},{"t":"2020-07-15T16:00Z","v":100.29},{"t":"2020-07-15T20:00Z","v":100.39},{"t":"2020-07-16T01:00Z","v":100.32},{"t":"2020-07-16T05:00Z","v":100.19},{"t":"2020-07-16T09:00Z","v":100.20},{"t":"2020-07-16T14:00Z","v":100.21},{"t":"2020-07-16T18:00Z","v":100.21},{"t":"2020-07-16T23:00Z","v":100.21},{"t":"2020-07-17T03:00Z","v":100.21},{"t":"2020-07-17T07:00Z","v":100.22},{"t":"2020-07-17T12:00Z","v":100.24},{"t":"2020-07-17T16:00Z","v":100.27},{"t":"2020-07-17T20:00Z","v":100.34},{"t":"2020-07-18T01:00Z","v":100.39},{"t":"2020-07-18T05:00Z","v":100.25},{"t":"2020-07-18T09:00Z","v":100.42},{"t":"2020-07-18T14:00Z","v":100.43},{"t":"2020-07-18T18:00Z","v":100.42},{"t":"2020-07-18T23:00Z","v":100.32},{"t":"2020-07-19T03:00Z","v":100.30},{"t":"2020-07-19T07:00Z","v":100.32},{"t":"2020-07-19T12:00Z","v":100.31},{"t":"2020-07-19T16:00Z","v":100.34},{"t":"2020-07-19T20:00Z","v":100.32},{"t":"2020-07-20T01:00Z","v":100.35},{"t":"2020-07-20T05:00Z","v":100.42},{"t":"2020-07-20T10:00Z","v":100.43},{"t":"2020-07-20T14:00Z","v":100.43},{"t":"2020-07-20T18:00Z","v":100.42},{"t":"2020-07-20T23:00Z","v":100.36},{"t":"2020-07-21T03:00Z","v":100.36},{"t":"2020-07-21T07:00Z","v":100.34},{"t":"2020-07-21T12:00Z","v":100.29},{"t":"2020-07-21T16:00Z","v":100.39},{"t":"2020-07-21T20:00Z","v":100.40},{"t":"2020-07-22T01:00Z","v":100.41},{"t":"2020-07-22T05:00Z","v":100.47},{"t":"2020-07-22T10:00Z","v":100.49},{"t":"2020-07-22T14:00Z","v":100.49},{"t":"2020-07-22T18:00Z","v":100.42},{"t":"2020-07-22T23:00Z","v":100.39},{"t":"2020-07-23T03:00Z","v":100.44},{"t":"2020-07-23T07:00Z","v":100.44},{"t":"2020-07-23T12:00Z","v":100.45},{"t":"2020-07-23T16:00Z","v":100.57},{"t":"2020-07-23T21:00Z","v":100.38},{"t":"2020-07-24T01:00Z","v":100.42},
{"t":"2020-07-24T05:00Z","v":100.32},{"t":"2020-07-24T10:00Z","v":100.32},{"t":"2020-07-24T14:00Z","v":100.35},{"t":"2020-07-24T18:00Z","v":100.37},{"t":"2020-07-24T23:00Z","v":100.29},{"t":"2020-07-25T03:00Z","v":100.20},{"t":"2020-07-25T08:00Z","v":100.57},{"t":"2020-07-25T12:00Z","v":100.67},{"t":"2020-07-25T16:00Z","v":100.67},{"t":"2020-07-25T21:00Z","v":100.69},{"t":"2020-07-26T01:00Z","v":101.52},{"t":"2020-07-26T05:00Z","v":101.52},{"t":"2020-07-26T10:00Z","v":100.94},{"t":"2020-07-26T14:00Z","v":100.64},{"t":"2020-07-26T18:00Z","v":100.81},{"t":"2020-07-26T23:00Z","v":100.61},{"t":"2020-07-27T03:00Z","v":100.61},{"t":"2020-07-27T08:00Z","v":100.54},{"t":"2020-07-27T12:00Z","v":100.47},{"t":"2020-07-27T16:00Z","v":100.34},{"t":"2020-07-27T21:00Z","v":101.28},{"t":"2020-07-27T23:00Z","v":101.89},{"t":"2020-07-28T03:00Z","v":102.04},{"t":"2020-07-28T08:00Z","v":102.14},{"t":"2020-07-28T12:00Z","v":102.07},{"t":"2020-07-28T16:00Z","v":102.12},{"t":"2020-07-28T21:00Z","v":102.09},{"t":"2020-07-29T01:00Z","v":101.92},{"t":"2020-07-29T05:00Z","v":101.82},{"t":"2020-07-29T10:00Z","v":101.92},{"t":"2020-07-29T14:00Z","v":101.92},{"t":"2020-07-29T19:00Z","v":101.94},{"t":"2020-07-29T23:00Z","v":101.92},{"t":"2020-07-30T03:00Z","v":101.99},{"t":"2020-07-30T08:00Z","v":102.29},{"t":"2020-07-30T12:00Z","v":102.19},{"t":"2020-07-30T16:00Z","v":102.17},{"t":"2020-07-30T21:00Z","v":102.15},{"t":"2020-07-31T01:00Z","v":102.36},{"t":"2020-07-31T06:00Z","v":102.63},{"t":"2020-07-31T08:00Z","v":102.83},{"t":"2020-07-31T12:00Z","v":102.73},{"t":"2020-07-31T16:00Z","v":102.46},{"t":"2020-07-31T21:00Z","v":102.29},
{"t":"2020-08-01T01:00Z","v":102.12},{"t":"2020-08-01T06:00Z","v":102.05},{"t":"2020-08-01T10:00Z","v":101.85},{"t":"2020-08-01T14:00Z","v":101.75},{"t":"2020-08-01T19:00Z","v":101.75},{"t":"2020-08-01T21:00Z","v":101.95},{"t":"2020-08-02T01:00Z","v":101.97},{"t":"2020-08-02T06:00Z","v":101.85},{"t":"2020-08-02T08:00Z","v":102.09},{"t":"2020-08-02T12:00Z","v":101.95},{"t":"2020-08-02T14:00Z","v":101.62},{"t":"2020-08-02T19:00Z","v":101.58},{"t":"2020-08-02T21:00Z","v":101.62},{"t":"2020-08-02T23:00Z","v":101.48},{"t":"2020-08-03T03:00Z","v":101.28},{"t":"2020-08-03T08:00Z","v":101.11},{"t":"2020-08-03T12:00Z","v":101.28},{"t":"2020-08-03T17:00Z","v":101.11},{"t":"2020-08-03T21:00Z","v":101.18},{"t":"2020-08-04T01:00Z","v":101.45},{"t":"2020-08-04T06:00Z","v":101.68},{"t":"2020-08-04T10:00Z","v":101.82},{"t":"2020-08-04T14:00Z","v":101.72},{"t":"2020-08-04T19:00Z","v":101.62},{"t":"2020-08-04T23:00Z","v":101.48},{"t":"2020-08-05T04:00Z","v":101.45},{"t":"2020-08-05T08:00Z","v":101.48},{"t":"2020-08-05T12:00Z","v":101.55},{"t":"2020-08-05T17:00Z","v":101.62},{"t":"2020-08-05T21:00Z","v":101.55},{"t":"2020-08-06T01:00Z","v":101.52},{"t":"2020-08-06T06:00Z","v":101.58},{"t":"2020-08-06T10:00Z","v":101.68},{"t":"2020-08-06T15:00Z","v":101.52},{"t":"2020-08-06T19:00Z","v":101.35},{"t":"2020-08-06T23:00Z","v":101.18},{"t":"2020-08-07T04:00Z","v":101.16},{"t":"2020-08-07T08:00Z","v":101.52},{"t":"2020-08-07T10:00Z","v":101.01},{"t":"2020-08-07T15:00Z","v":100.66},{"t":"2020-08-07T19:00Z","v":100.94},{"t":"2020-08-07T23:00Z","v":101.14},{"t":"2020-08-08T04:00Z","v":101.13},{"t":"2020-08-08T08:00Z","v":101.13},{"t":"2020-08-08T12:00Z","v":101.11},{"t":"2020-08-08T17:00Z","v":101.28},{"t":"2020-08-08T21:00Z","v":101.21},{"t":"2020-08-09T02:00Z","v":101.25},{"t":"2020-08-09T06:00Z","v":101.21},{"t":"2020-08-09T10:00Z","v":101.11},{"t":"2020-08-09T15:00Z","v":100.91},{"t":"2020-08-09T19:00Z","v":100.64},{"t":"2020-08-09T23:00Z","v":100.54},{"t":"2020-08-10T02:00Z","v":100.52}
]},
"layer": [
{"data": {"values": [{}]},
 "mark": {"type": "rect", "fill": null, "fillOpacity": 0, "stroke": "#50535e", "strokeWidth": 1, "clip": false},
 "encoding": {
  "x": {"datum": 1580196096000, "type": "temporal", "scale": {"type": "utc", "nice": false, "domain": [1580196096000, 1597288896000]}},
  "x2": {"datum": 1598357376000},
  "y": {"datum": 103.761, "type": "quantitative", "scale": {"domain": [97.377, 103.761], "nice": false, "zero": false}},
  "y2": {"datum": 96.942}}},
{"data": {"values": [{}]},
 "mark": {"type": "rect", "fill": null, "fillOpacity": 0, "stroke": "#50535e", "strokeWidth": 1, "clip": false},
 "encoding": {
  "x": {"datum": 1597288896000, "type": "temporal", "scale": {"type": "utc", "nice": false, "domain": [1580196096000, 1597288896000]}},
  "x2": {"datum": 1598357376000},
  "y": {"datum": 97.377, "type": "quantitative", "scale": {"domain": [97.377, 103.761], "nice": false, "zero": false}},
  "y2": {"datum": 96.942}}},
{"data": {"values": [{}]},
 "mark": {"type": "rule", "stroke": "#b35f06", "strokeOpacity": 0.75, "strokeWidth": 3, "strokeDash": [15, 18]},
 "encoding": {"y": {"datum": 100, "type": "quantitative", "scale": {"domain": [97.377, 103.761], "nice": false, "zero": false}}}},
{"data": {"name": "ratio"},
 "mark": {"type": "line", "color": "#2196f3", "strokeWidth": 2, "clip": true, "interpolate": "linear"},
 "encoding": {
  "x": {"field": "t", "type": "temporal",
   "scale": {"type": "utc", "nice": false, "domain": [1580196096000, 1597288896000]},
   "axis": {"title": null, "format": "%b",
    "values": [
     {"year": 2020, "month": 2, "date": 1, "utc": true},
     {"year": 2020, "month": 3, "date": 1, "utc": true},
     {"year": 2020, "month": 4, "date": 1, "utc": true},
     {"year": 2020, "month": 5, "date": 1, "utc": true},
     {"year": 2020, "month": 6, "date": 1, "utc": true},
     {"year": 2020, "month": 7, "date": 1, "utc": true},
     {"year": 2020, "month": 8, "date": 1, "utc": true}],
    "grid": true, "gridColor": "#1f6f6f", "gridDash": [1, 2], "gridWidth": 1,
    "domainColor": "#50535e", "tickColor": "#50535e", "tickSize": 4,
    "labelFont": "Open Sans", "labelFontSize": 17, "labelColor": "#131722", "labelPadding": 6, "labelFlush": false, "labelOverlap": false}},
  "y": {"field": "v", "type": "quantitative",
   "scale": {"domain": [97.377, 103.761], "nice": false, "zero": false},
   "axis": {"title": null, "orient": "right", "values": [98, 99, 100, 101, 102, 103], "format": "d",
    "labelExpr": "datum.value == 100 ? '' : datum.label",
    "grid": true, "gridColor": "#1f6f6f", "gridDash": [1, 2], "gridWidth": 1,
    "domainColor": "#50535e", "tickColor": "#50535e", "tickSize": 5,
    "labelFont": "Open Sans", "labelFontSize": 17, "labelColor": "#131722", "labelPadding": 8, "labelFlush": false, "labelOverlap": false}}}},
{"data": {"values": [{}]},
 "mark": {"type": "rect", "fill": "#b35f06", "clip": false},
 "encoding": {
  "x": {"datum": 1597288896000, "type": "temporal", "scale": {"type": "utc", "nice": false, "domain": [1580196096000, 1597288896000]}},
  "x2": {"datum": 1597932288000},
  "y": {"datum": 100.155, "type": "quantitative", "scale": {"domain": [97.377, 103.761], "nice": false, "zero": false}},
  "y2": {"datum": 99.842}}},
{"data": {"values": [{"label": "100"}]},
 "mark": {"type": "text", "color": "white", "font": "Open Sans", "fontSize": 17, "align": "center", "baseline": "middle", "clip": false},
 "encoding": {
  "x": {"datum": 1597604486400, "type": "temporal", "scale": {"type": "utc", "nice": false, "domain": [1580196096000, 1597288896000]}},
  "y": {"datum": 100, "type": "quantitative", "scale": {"domain": [97.377, 103.761], "nice": false, "zero": false}},
  "text": {"field": "label"}}},
{"data": {"values": [{"label": "100*BTC1!/BTCUSD, 4h, CME"}]},
 "mark": {"type": "text", "color": "#131722", "font": "Open Sans", "fontSize": 12.5, "fontWeight": "bold", "align": "left", "baseline": "alphabetic"},
 "encoding": {
  "x": {"datum": 1580390470080, "type": "temporal", "scale": {"type": "utc", "nice": false, "domain": [1580196096000, 1597288896000]}},
  "y": {"datum": 103.488, "type": "quantitative", "scale": {"domain": [97.377, 103.761], "nice": false, "zero": false}},
  "text": {"field": "label"}}},
{"data": {"values": [{}]},
 "mark": {"type": "point", "filled": true, "fill": "#2196f3", "strokeWidth": 0, "opacity": 1, "size": 676,
  "shape": "M-0.75,0.6 C-1.05,0.6 -1.1,0.1 -0.8,0.02 C-0.8,-0.35 -0.35,-0.5 -0.15,-0.25 C0.05,-0.75 0.75,-0.65 0.7,-0.05 C1.05,0 1.05,0.6 0.7,0.6 Z"},
 "encoding": {
  "x": {"datum": 1595952432000, "type": "temporal", "scale": {"type": "utc", "nice": false, "domain": [1580196096000, 1597288896000]}},
  "y": {"datum": 97.63, "type": "quantitative", "scale": {"domain": [97.377, 103.761], "nice": false, "zero": false}}}},
{"data": {"values": [{}]},
 "mark": {"type": "point", "filled": false, "stroke": "white", "strokeWidth": 2, "opacity": 1, "size": 676,
  "shape": "M-0.6,0.45 L-0.2,0.05 L0.15,0.35 L0.55,-0.1"},
 "encoding": {
  "x": {"datum": 1595952432000, "type": "temporal", "scale": {"type": "utc", "nice": false, "domain": [1580196096000, 1597288896000]}},
  "y": {"datum": 97.63, "type": "quantitative", "scale": {"domain": [97.377, 103.761], "nice": false, "zero": false}}}},
{"data": {"values": [{"label": "TradingView"}]},
 "mark": {"type": "text", "color": "#131722", "font": "Open Sans", "fontSize": 13, "align": "left", "baseline": "middle"},
 "encoding": {
  "x": {"datum": 1596134649600, "type": "temporal", "scale": {"type": "utc", "nice": false, "domain": [1580196096000, 1597288896000]}},
  "y": {"datum": 97.62, "type": "quantitative", "scale": {"domain": [97.377, 103.761], "nice": false, "zero": false}},
  "text": {"field": "label"}}}
]
}
